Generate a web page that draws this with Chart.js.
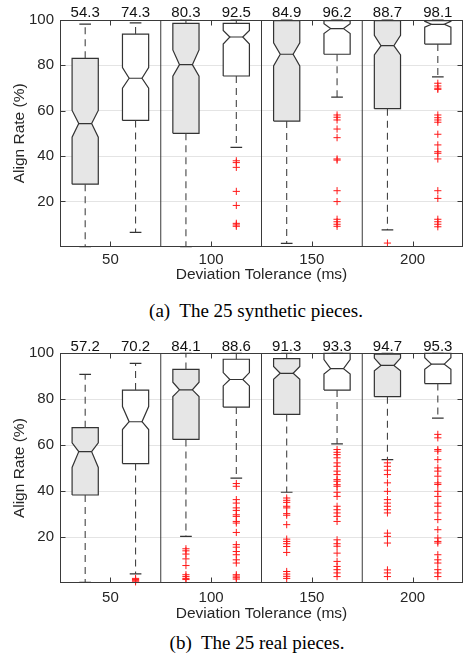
<!DOCTYPE html>
<html><head><meta charset="utf-8">
<script src="https://cdn.jsdelivr.net/npm/chart.js@4.4.1/dist/chart.umd.min.js"></script>
<style>
html,body{margin:0;padding:0;background:#fff;overflow:hidden;}
body{width:468px;height:656px;position:relative;}
.wrap{position:absolute;left:0;width:468px;height:300px;}
.cap{position:absolute;font-family:"Liberation Serif","Times New Roman",serif;font-size:19px;color:#000;white-space:nowrap;transform:translate(-50%,-50%);}
</style></head><body>
<div class="wrap" style="top:0"><canvas id="c1" width="468" height="300"></canvas></div>
<div class="wrap" style="top:330px"><canvas id="c2" width="468" height="300"></canvas></div>
<div class="cap" style="left:256px;top:311px">(a)&nbsp; The 25 synthetic pieces.</div>
<div class="cap" style="left:257px;top:643px">(b)&nbsp; The 25 real pieces.</div>
<script>
// ---------- data ----------
const tolerances = [50, 100, 150, 200];
const xTickValues = [50, 100, 150, 200];
const yTickValues = [20, 40, 60, 80, 100];

// (a) synthetic pieces, gray boxes
const synA_q1  = [27.6, 50.0, 55.4, 60.9];
const synA_med = [54.3, 80.3, 84.9, 88.7];
const synA_q3  = [83.1, 98.5, 99.7, 99.7];
const synA_nlo = [48.3, 75.2, 79.7, 84.6];
const synA_nhi = [60.1, 86.8, 89.9, 93.2];
const synA_wlo = [0.0, 0.0, 1.5, 7.4];
const synA_whi = [98.2, 100, 100, 100];
const synA_out = [[], [], [], [1.6]];
// (a) synthetic pieces, white boxes
const synB_q1  = [55.7, 75.3, 84.9, 89.4];
const synB_med = [74.3, 92.5, 96.2, 98.1];
const synB_q3  = [93.8, 98.5, 99.7, 99.7];
const synB_nlo = [69.9, 89.4, 94.0, 96.8];
const synB_nhi = [79.0, 95.4, 98.4, 99.4];
const synB_wlo = [6.3, 43.8, 66.0, 74.9];
const synB_whi = [98.7, 100, 100, 100];
const synB_out = [
  [],
  [37.9, 37.1, 35.0, 24.4, 18.2, 10.3, 9.6, 9.0],
  [58.1, 57.1, 55.9, 51.9, 48.1, 38.7, 38.2, 24.7, 19.9, 12.1, 11.0, 9.9, 9.0],
  [72.1, 70.9, 69.9, 69.4, 58.1, 56.9, 55.9, 54.9, 49.6, 44.9, 41.9, 41.2, 38.7, 24.7, 21.3, 12.1, 11.0, 9.9, 8.8]
];

// (b) real pieces, gray boxes
const realA_q1  = [38.3, 62.5, 73.4, 81.1];
const realA_med = [57.2, 84.1, 91.3, 94.7];
const realA_q3  = [67.6, 93.0, 97.7, 99.6];
const realA_nlo = [50.3, 81.2, 88.7, 92.4];
const realA_nhi = [61.0, 87.4, 94.3, 97.9];
const realA_wlo = [0.3, 20.3, 39.5, 53.7];
const realA_whi = [90.8, 100, 100, 100];
const realA_out = [
  [],
  [14.9, 14.0, 12.6, 10.5, 7.6, 3.6, 2.8, 2.0, 1.5],
  [37.0, 36.0, 35.1, 33.4, 32.7, 30.2, 29.5, 25.4, 19.1, 18.1, 17.1, 15.9, 13.3, 5.0, 3.9, 2.9, 2.0],
  [52.3, 50.8, 49.1, 47.2, 43.6, 39.9, 36.3, 34.8, 33.4, 31.9, 30.5, 21.7, 20.3, 17.4, 5.7, 4.4, 2.8]
];
// (b) real pieces, white boxes
const realB_q1  = [52.0, 76.6, 84.0, 86.8];
const realB_med = [70.2, 88.6, 93.3, 95.3];
const realB_q3  = [84.0, 97.4, 100, 100];
const realB_nlo = [66.8, 85.8, 91.0, 93.0];
const realB_nhi = [76.8, 91.6, 97.3, 98.1];
const realB_wlo = [4.0, 45.7, 60.6, 71.8];
const realB_whi = [95.6, 100, 100, 100];
const realB_out = [
  [2.0, 1.5, 1.0, 0.5],
  [43.3, 42.1, 36.3, 34.8, 32.7, 31.6, 29.7, 29.0, 26.8, 26.1, 22.0, 16.7, 15.6, 13.7, 12.3, 10.1, 8.7, 3.6, 3.0, 2.3, 1.7],
  [58.1, 56.9, 55.9, 54.5, 52.3, 50.8, 48.7, 47.2, 45.0, 44.3, 42.8, 42.1, 39.5, 37.7, 33.4, 31.9, 30.5, 29.0, 26.8, 18.8, 17.1, 16.0, 13.0, 9.4, 7.2, 5.8, 4.4, 2.8],
  [64.7, 63.2, 58.1, 57.4, 53.7, 50.1, 48.7, 46.5, 43.6, 42.9, 39.9, 37.7, 34.8, 33.4, 30.5, 27.6, 23.2, 19.6, 18.1, 17.4, 12.3, 10.1, 8.7, 5.8, 4.4, 2.8]
];

// ---------- geometry / style ----------
const OFFSET = 12.5, HALF_W = 6.5, NOTCH_W = 3.2, CAP_W = 2.9;
const FONT = '"Liberation Sans", Arial, Helvetica, sans-serif';
const EDGE = '#333333';

function buildDatasets(groups) {
  const boxes = [], medians = [], whiskers = [], caps = [], outliers = [];
  const labels = [];
  groups.forEach(g => {
    tolerances.forEach((t, i) => {
      const x = t + g.side * OFFSET;
      const q1 = g.q1[i], q3 = g.q3[i], md = g.med[i], nl = g.nlo[i], nh = g.nhi[i];
      boxes.push({
        type: 'scatter', showLine: true, fill: 'shape', backgroundColor: g.fill,
        borderColor: EDGE, borderWidth: 1.2, pointRadius: 0, tension: 0, clip: false,
        data: [
          {x: x - HALF_W, y: q1}, {x: x - HALF_W, y: nl}, {x: x - NOTCH_W, y: md},
          {x: x - HALF_W, y: nh}, {x: x - HALF_W, y: q3}, {x: x + HALF_W, y: q3},
          {x: x + HALF_W, y: nh}, {x: x + NOTCH_W, y: md}, {x: x + HALF_W, y: nl},
          {x: x + HALF_W, y: q1}, {x: x - HALF_W, y: q1}
        ]
      });
      medians.push({x: x - NOTCH_W, y: md}, {x: x + NOTCH_W, y: md}, {x: x, y: null});
      if (g.whi[i] > q3) whiskers.push({x: x, y: q3}, {x: x, y: g.whi[i]}, {x: x, y: null});
      if (g.wlo[i] < q1) whiskers.push({x: x, y: q1}, {x: x, y: g.wlo[i]}, {x: x, y: null});
      caps.push({x: x - CAP_W, y: g.whi[i]}, {x: x + CAP_W, y: g.whi[i]}, {x: x, y: null});
      caps.push({x: x - CAP_W, y: g.wlo[i]}, {x: x + CAP_W, y: g.wlo[i]}, {x: x, y: null});
      g.out[i].forEach(v => outliers.push({x: x, y: v}));
      labels.push({x: x, text: md.toFixed(1)});
    });
  });
  const seps = [];
  for (let i = 0; i < tolerances.length - 1; i++) {
    const s = (tolerances[i] + tolerances[i + 1]) / 2;
    seps.push({x: s, y: 0}, {x: s, y: 100}, {x: s, y: null});
  }
  const lineDS = (data, color, width, dash) => ({
    type: 'scatter', showLine: true, data, borderColor: color, borderWidth: width,
    borderDash: dash || [], pointRadius: 0, fill: false, clip: false, spanGaps: false
  });
  const datasets = [
    {type: 'scatter', data: outliers, showLine: false, pointStyle: 'cross', pointRadius: 3.6,
     borderColor: 'rgb(255,25,25)', borderWidth: 1, backgroundColor: 'rgb(255,25,25)', clip: false},
    lineDS(caps, EDGE, 1.2),
    lineDS(whiskers, '#444444', 1.1, [7, 5]),
    lineDS(medians, EDGE, 1.2),
    ...boxes,
    lineDS(seps, '#3a3a3a', 1)
  ];
  return {datasets, labels};
}

const framePlugin = {
  id: 'frame',
  afterDatasetsDraw(chart, args, opts) {
    const {ctx, chartArea: a} = chart;
    const x = chart.scales.x, y = chart.scales.y;
    ctx.save();
    ctx.strokeStyle = '#3a3a3a'; ctx.lineWidth = 1;
    const L = Math.round(a.left) + 0.5, R = Math.round(a.right) - 0.5;
    const T = Math.round(a.top) + 0.5, B = Math.round(a.bottom) - 0.5;
    ctx.strokeRect(L, T, R - L, B - T);
    ctx.beginPath();
    xTickValues.forEach(v => {
      const px = Math.round(x.getPixelForValue(v)) + 0.5;
      ctx.moveTo(px, B); ctx.lineTo(px, B - 5);
      ctx.moveTo(px, T); ctx.lineTo(px, T + 5);
    });
    yTickValues.forEach(v => {
      const py = Math.round(y.getPixelForValue(v)) + 0.5;
      ctx.moveTo(L, py); ctx.lineTo(L + 5, py);
      ctx.moveTo(R, py); ctx.lineTo(R - 5, py);
    });
    ctx.stroke();
    ctx.fillStyle = '#111';
    ctx.font = '15px ' + FONT;
    ctx.textAlign = 'center'; ctx.textBaseline = 'middle';
    opts.labels.forEach(l => ctx.fillText(l.text, x.getPixelForValue(l.x), a.top - opts.labelGap));
    ctx.restore();
  }
};

function makeChart(id, groups, cfg) {
  const {datasets, labels} = buildDatasets(groups);
  return new Chart(document.getElementById(id), {
    type: 'scatter',
    data: {datasets},
    plugins: [framePlugin],
    options: {
      responsive: false, animation: false, events: [],
      layout: {padding: {top: cfg.padTop, left: 6, right: 0, bottom: cfg.padBottom}},
      plugins: {legend: {display: false}, tooltip: {enabled: false},
                frame: {labels, labelGap: cfg.labelGap}},
      scales: {
        x: {
          type: 'linear', min: 25, max: 225,
          afterBuildTicks: ax => { ax.ticks = xTickValues.map(v => ({value: v})); },
          afterFit: ax => { ax.height = cfg.xHeight; },
          grid: {display: false, drawTicks: false},
          border: {display: false},
          ticks: {autoSkip: false, maxRotation: 0, padding: cfg.xTickPad, color: '#262626',
                  font: {family: FONT, size: 15}},
          title: {display: true, text: 'Deviation Tolerance (ms)', color: '#262626',
                  font: {family: FONT, size: 15.5}, padding: {top: 0, bottom: 0}}
        },
        y: {
          type: 'linear', min: 0, max: 100,
          afterBuildTicks: ax => { ax.ticks = yTickValues.map(v => ({value: v})); },
          afterFit: ax => { ax.width = 54; },
          grid: {display: true, drawTicks: false, color: '#e4e4e4', lineWidth: 1},
          border: {display: false},
          ticks: {padding: 6, color: '#262626', font: {family: FONT, size: 15}},
          title: {display: true, text: 'Align Rate (%)', color: '#262626',
                  font: {family: FONT, size: 15.5}, padding: {top: 4, bottom: 4}}
        }
      }
    }
  });
}

makeChart('c1', [
  {side: -1, fill: '#e6e6e6', q1: synA_q1, med: synA_med, q3: synA_q3, nlo: synA_nlo, nhi: synA_nhi, wlo: synA_wlo, whi: synA_whi, out: synA_out},
  {side: 1, fill: '#ffffff', q1: synB_q1, med: synB_med, q3: synB_q3, nlo: synB_nlo, nhi: synB_nhi, wlo: synB_wlo, whi: synB_whi, out: synB_out}
], {padTop: 20, padBottom: 15.7, xHeight: 37.6, xTickPad: 4.3, labelGap: 6.7});

makeChart('c2', [
  {side: -1, fill: '#e6e6e6', q1: realA_q1, med: realA_med, q3: realA_q3, nlo: realA_nlo, nhi: realA_nhi, wlo: realA_wlo, whi: realA_whi, out: realA_out},
  {side: 1, fill: '#ffffff', q1: realB_q1, med: realB_med, q3: realB_q3, nlo: realB_nlo, nhi: realB_nhi, wlo: realB_wlo, whi: realB_whi, out: realB_out}
], {padTop: 23.3, padBottom: 7.4, xHeight: 39.6, xTickPad: 5.7, labelGap: 6.3});
</script>
</body></html>
